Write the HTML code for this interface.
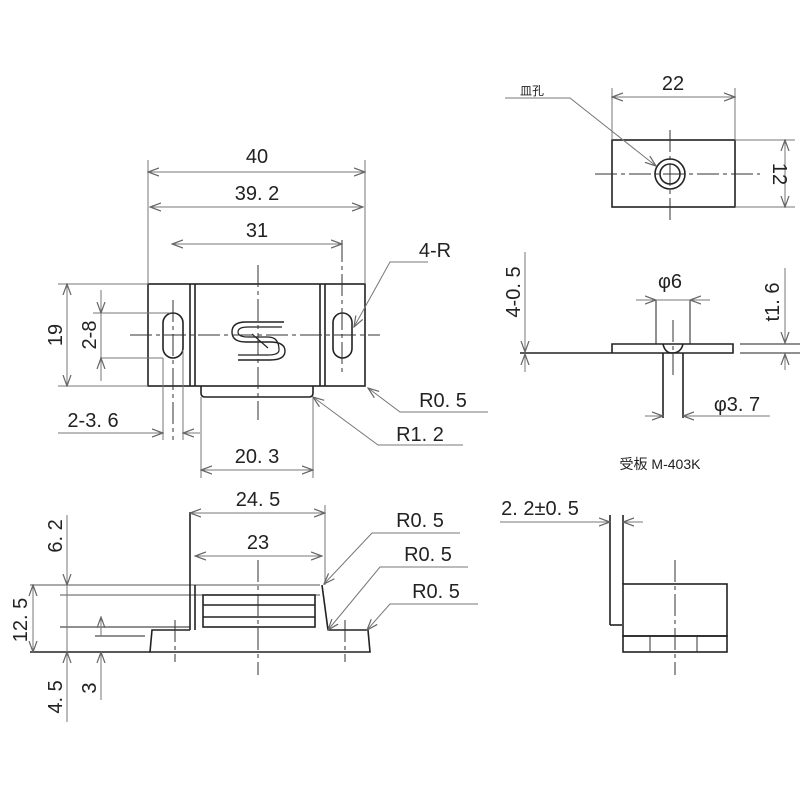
<!DOCTYPE html>
<html><head><meta charset="utf-8"><style>html,body{margin:0;padding:0;background:#fff}svg{display:block}</style></head>
<body>
<svg width="800" height="800" viewBox="0 0 800 800" xmlns="http://www.w3.org/2000/svg" font-family="Liberation Sans, 'Noto Sans CJK JP', sans-serif" font-size="20" fill="#222">
<defs>
<marker id="a" viewBox="0 0 12 10" refX="11" refY="5" markerWidth="12" markerHeight="10" orient="auto-start-reverse" markerUnits="userSpaceOnUse"><path d="M0,1 L11,5 L0,9" fill="none" stroke="#666" stroke-width="1.2"/></marker>
</defs>
<g stroke="#222" stroke-width="1.6" fill="none">
<rect x="148" y="284" width="217" height="102"/>
<line x1="190" y1="284" x2="190" y2="386"/><line x1="195" y1="284" x2="195" y2="386"/>
<line x1="320" y1="284" x2="320" y2="386"/><line x1="325" y1="284" x2="325" y2="386"/>
<path d="M201,386 V393 Q201,397 205,397 H309 Q313,397 313,393 V386"/>
<rect x="163" y="313" width="20" height="45" rx="10"/>
<rect x="333" y="313" width="19" height="45" rx="9.5"/>
<path d="M284,322 H246 Q232,322 232,332 Q232,342 246,342 H270 Q285,342 285,351 Q285,360 270,360 H238" stroke-width="1.4"/>
<path d="M282,327 H248 Q238,327 238,332 Q238,337 248,337 H268 Q279,337 279,350 Q279,355 268,355 H238" stroke-width="1.2"/>
<line x1="252" y1="334" x2="268" y2="348" stroke-width="1.2"/>
<line x1="30" y1="585" x2="320" y2="585" stroke="#555" stroke-width="1"/>
<line x1="60" y1="595" x2="320" y2="595" stroke="#555" stroke-width="1"/>
<path d="M190,512 V630 M195,585 V630"/>
<path d="M322,585 L328,630"/>
<rect x="203" y="595" width="112" height="32"/>
<line x1="203" y1="605" x2="315" y2="605"/><line x1="203" y1="617" x2="315" y2="617"/>
<path d="M190,630 H152 L150,652 H370 L368,630 H328"/>
<line x1="30" y1="652" x2="150" y2="652"/>
<line x1="60" y1="627" x2="190" y2="627" stroke-width="1"/>
<line x1="95" y1="636" x2="145" y2="636" stroke-width="1"/>
<rect x="612" y="140" width="123" height="67"/>
<circle cx="670" cy="174" r="15"/><circle cx="670" cy="174" r="10"/>
<path d="M520,353 H612 V344 H733 V353 H612"/>
<path d="M663,344 Q665,353 672,353 Q681,353 683,344"/>
<line x1="663" y1="353" x2="663" y2="418"/><line x1="683" y1="353" x2="683" y2="418"/>
<line x1="656" y1="300" x2="656" y2="344" stroke-width="1"/><line x1="690" y1="300" x2="690" y2="344" stroke-width="1"/>
<line x1="740" y1="344" x2="800" y2="344" stroke-width="1"/><line x1="740" y1="353" x2="800" y2="353" stroke-width="1"/>
<line x1="610" y1="515" x2="610" y2="625"/><line x1="623" y1="515" x2="623" y2="584"/>
<path d="M610,625 H622"/>
<rect x="623" y="584" width="104" height="52"/>
<rect x="623" y="636" width="104" height="16"/>
</g>
<g stroke="#333" stroke-width="1" stroke-dasharray="22,4,4,4" fill="none">
<line x1="258" y1="265" x2="258" y2="420"/>
<line x1="130" y1="335" x2="380" y2="335"/>
<line x1="173" y1="300" x2="173" y2="440"/><line x1="342" y1="240" x2="342" y2="372"/>
<line x1="258" y1="560" x2="258" y2="675"/>
<line x1="175" y1="620" x2="175" y2="662"/><line x1="345" y1="620" x2="345" y2="662"/>
<line x1="670" y1="130" x2="670" y2="220"/><line x1="595" y1="174" x2="760" y2="174"/>
<line x1="673" y1="320" x2="673" y2="375"/>
<line x1="675" y1="560" x2="675" y2="675"/>
<line x1="650" y1="636" x2="650" y2="652"/><line x1="697" y1="636" x2="697" y2="652"/>
</g>
<g stroke="#777" stroke-width="1" fill="none">
<line x1="148" y1="160" x2="148" y2="284"/><line x1="365" y1="160" x2="365" y2="284"/>
<line x1="148" y1="172" x2="365" y2="172" marker-start="url(#a)" marker-end="url(#a)"/>
<line x1="150" y1="207" x2="363" y2="207" marker-start="url(#a)" marker-end="url(#a)"/>
<line x1="172" y1="244" x2="342" y2="244" marker-start="url(#a)" marker-end="url(#a)"/>
<line x1="58" y1="284" x2="148" y2="284"/><line x1="58" y1="386" x2="148" y2="386"/>
<line x1="67" y1="284" x2="67" y2="386" marker-start="url(#a)" marker-end="url(#a)"/>
<line x1="93" y1="313" x2="170" y2="313"/><line x1="100" y1="358" x2="163" y2="358"/>
<line x1="101" y1="290" x2="101" y2="313" marker-end="url(#a)"/><line x1="101" y1="313" x2="101" y2="358"/><line x1="101" y1="381" x2="101" y2="358" marker-end="url(#a)"/>
<line x1="163" y1="358" x2="163" y2="440"/><line x1="183" y1="350" x2="183" y2="440"/><line x1="201" y1="397" x2="201" y2="478"/><line x1="313" y1="397" x2="313" y2="478"/>
<line x1="58" y1="433" x2="163" y2="433" marker-end="url(#a)"/><line x1="200" y1="433" x2="183" y2="433" marker-end="url(#a)"/>
<line x1="201" y1="470" x2="313" y2="470" marker-start="url(#a)" marker-end="url(#a)"/>
<path d="M428,262 H390 L354,327" marker-end="url(#a)"/>
<path d="M488,412 H400 L368,388" marker-end="url(#a)"/>
<path d="M463,445 H378 L313,397" marker-end="url(#a)"/>
<line x1="190" y1="513" x2="325" y2="513" marker-start="url(#a)" marker-end="url(#a)"/><line x1="325" y1="505" x2="325" y2="585"/>
<line x1="195" y1="556" x2="322" y2="556" marker-start="url(#a)" marker-end="url(#a)"/>
<path d="M460,533 H372 L324,584" marker-end="url(#a)"/>
<path d="M468,567 H380 L328,630" marker-end="url(#a)"/>
<path d="M478,604 H390 L367,630" marker-end="url(#a)"/>
<line x1="33" y1="585" x2="33" y2="652" marker-start="url(#a)" marker-end="url(#a)"/>
<line x1="67" y1="515" x2="67" y2="585" marker-end="url(#a)"/><line x1="67" y1="585" x2="67" y2="652"/>
<line x1="67" y1="722" x2="67" y2="652" marker-end="url(#a)"/>
<line x1="101" y1="617" x2="101" y2="636" marker-start="url(#a)"/><line x1="101" y1="700" x2="101" y2="652" marker-end="url(#a)"/>
<line x1="612" y1="88" x2="612" y2="140"/><line x1="735" y1="88" x2="735" y2="140"/>
<line x1="612" y1="97" x2="735" y2="97" marker-start="url(#a)" marker-end="url(#a)"/>
<line x1="735" y1="140" x2="795" y2="140"/><line x1="735" y1="207" x2="795" y2="207"/>
<line x1="785" y1="140" x2="785" y2="207" marker-start="url(#a)" marker-end="url(#a)"/>
<path d="M505,98 H570 L656,166" marker-end="url(#a)"/>
<line x1="525" y1="252" x2="525" y2="352" marker-end="url(#a)"/><line x1="525" y1="372" x2="525" y2="354" marker-end="url(#a)"/>
<line x1="785" y1="268" x2="785" y2="343" marker-end="url(#a)"/><line x1="785" y1="370" x2="785" y2="354" marker-end="url(#a)"/>
<line x1="636" y1="300" x2="656" y2="300" marker-end="url(#a)"/><line x1="710" y1="300" x2="690" y2="300" marker-end="url(#a)"/><line x1="656" y1="300" x2="690" y2="300"/>
<line x1="645" y1="416" x2="663" y2="416" marker-end="url(#a)"/><line x1="770" y1="416" x2="683" y2="416" marker-end="url(#a)"/>
<line x1="500" y1="522" x2="610" y2="522" marker-end="url(#a)"/><line x1="643" y1="522" x2="623" y2="522" marker-end="url(#a)"/>
</g>
<g text-anchor="middle">
<text x="257" y="163">40</text>
<text x="257" y="200">39. 2</text>
<text x="257" y="237">31</text>
<text x="435" y="257">4-R</text>
<text x="443" y="407">R0. 5</text>
<text x="420" y="441">R1. 2</text>
<text x="93" y="427">2-3. 6</text>
<text x="257" y="463">20. 3</text>
<text x="258" y="506">24. 5</text>
<text x="258" y="549">23</text>
<text x="420" y="527">R0. 5</text>
<text x="428" y="561">R0. 5</text>
<text x="436" y="598">R0. 5</text>
<text x="673" y="90">22</text>
<text x="670" y="288">φ6</text>
<text x="737" y="411">φ3. 7</text>
<text x="540" y="515">2. 2±0. 5</text>
<text x="660" y="469" font-size="14">受板  M-403K</text>
<text x="532" y="95" font-size="12">皿孔</text>
<text transform="translate(62,335) rotate(-90)">19</text>
<text transform="translate(96,335) rotate(-90)">2-8</text>
<text transform="translate(27,620) rotate(-90)">12. 5</text>
<text transform="translate(62,536) rotate(-90)">6. 2</text>
<text transform="translate(62,697) rotate(-90)">4. 5</text>
<text transform="translate(96,688) rotate(-90)">3</text>
<text transform="translate(773,174) rotate(90)">12</text>
<text transform="translate(520,292) rotate(-90)">4-0. 5</text>
<text transform="translate(779,302) rotate(-90)">t1. 6</text>
</g>
</svg>
</body></html>
